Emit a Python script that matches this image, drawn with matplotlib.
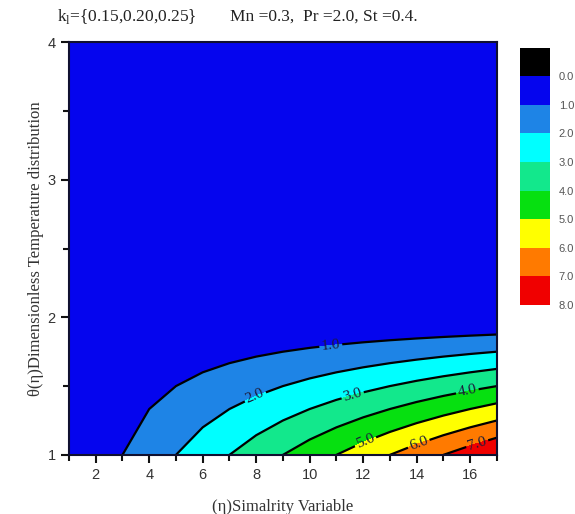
import numpy as np
import matplotlib
matplotlib.use("Agg")
import matplotlib.pyplot as plt
import matplotlib.cm as cm
from matplotlib.colors import ListedColormap, BoundaryNorm
from matplotlib.ticker import MultipleLocator

# Grille (eta en abscisse, theta en ordonnee)
eta = [1, 2, 3, 4, 5, 6, 7, 8, 9, 10, 11, 12, 13, 14, 15, 16, 17]
theta = [1.0, 2.0, 3.0, 4.0]
temp_row_1 = [0.0, 0.5, 1.0, 1.5, 2.0, 2.5, 3.0, 3.5, 4.0,
              4.5, 5.0, 5.5, 6.0, 6.5, 7.0, 7.5, 8.0]
temp_row_2 = [0.0] * 17
temp_row_3 = [0.0] * 17
temp_row_4 = [0.0] * 17

levels = [0.0, 1.0, 2.0, 3.0, 4.0, 5.0, 6.0, 7.0, 8.0]
line_levels = [1.0, 2.0, 3.0, 4.0, 5.0, 6.0, 7.0]
band_colors = ["#0505EE", "#1E84E6", "#00FFFF", "#12E88C",
               "#06E010", "#FFFF00", "#FF7A00", "#F00000"]
bar_levels = [-1.0] + levels
bar_colors = ["#000000"] + band_colors

# positions des etiquettes des isolignes
label_pos = [(10.8, 1.78), (8.0, 1.41), (11.6, 1.44), (15.9, 1.46),
             (12.1, 1.09), (14.1, 1.07), (16.3, 1.06)]

plt.rcParams["font.family"] = "Liberation Serif"

X, Y = np.meshgrid(eta, theta)
Z = np.array([temp_row_1, temp_row_2, temp_row_3, temp_row_4])

fig = plt.figure(figsize=(5.75, 5.14), dpi=100)
ax = fig.add_axes([0.12, 0.115, 0.744, 0.803])
cax = fig.add_axes([0.904, 0.407, 0.053, 0.5])

ax.contourf(X, Y, Z, levels=levels, colors=band_colors)
cs = ax.contour(X, Y, Z, levels=line_levels, colors="black", linewidths=1.6)
labels = ax.clabel(cs, fmt="%.1f", manual=label_pos, inline=True,
                   inline_spacing=2, fontsize=11, colors="#1c1c3a")

ax.set_xlim(1, 17)
ax.set_ylim(1, 4)
ax.xaxis.set_major_locator(MultipleLocator(2))
ax.xaxis.set_minor_locator(MultipleLocator(1))
ax.yaxis.set_major_locator(MultipleLocator(1))
ax.yaxis.set_minor_locator(MultipleLocator(0.5))
ax.tick_params(which="major", direction="out", length=6, width=1.5,
               colors="#111111", labelsize=10.5, labelcolor="#333333")
ax.tick_params(which="minor", direction="out", length=4, width=1.5,
               colors="#111111")
for lab in ax.get_xticklabels() + ax.get_yticklabels():
    lab.set_fontfamily("Liberation Sans")
for sp in ax.spines.values():
    sp.set_linewidth(1.5)
    sp.set_color("#101030")

ax.set_xlabel("(\u03b7)Simalrity Variable", fontsize=12, labelpad=12,
              color="#333333")
ax.set_ylabel("\u03b8(\u03b7)Dimensionless Temperature distribution",
              fontsize=12, labelpad=3, color="#333333")

fig.text(57 / 575, 1 - 17 / 514, r"k$_\mathregular{l}$={0.15,0.20,0.25}",
         fontsize=12.5, va="center", ha="left", color="#222222")
fig.text(230 / 575, 1 - 17 / 514, "Mn =0.3,  Pr =2.0, St =0.4.",
         fontsize=12.5, va="center", ha="left", color="#222222")

# barre de couleurs
sm = cm.ScalarMappable(norm=BoundaryNorm(bar_levels, len(bar_colors)),
                       cmap=ListedColormap(bar_colors))
cbar = fig.colorbar(sm, cax=cax, ticks=levels, format="%.1f")
cax.invert_yaxis()
cax.minorticks_off()
cbar.outline.set_visible(False)
cax.tick_params(which="both", length=0, labelsize=8, colors="#555555",
                pad=6)
for lab in cax.get_yticklabels():
    lab.set_fontfamily("Liberation Sans")

fig.savefig("out.png", dpi=100)
